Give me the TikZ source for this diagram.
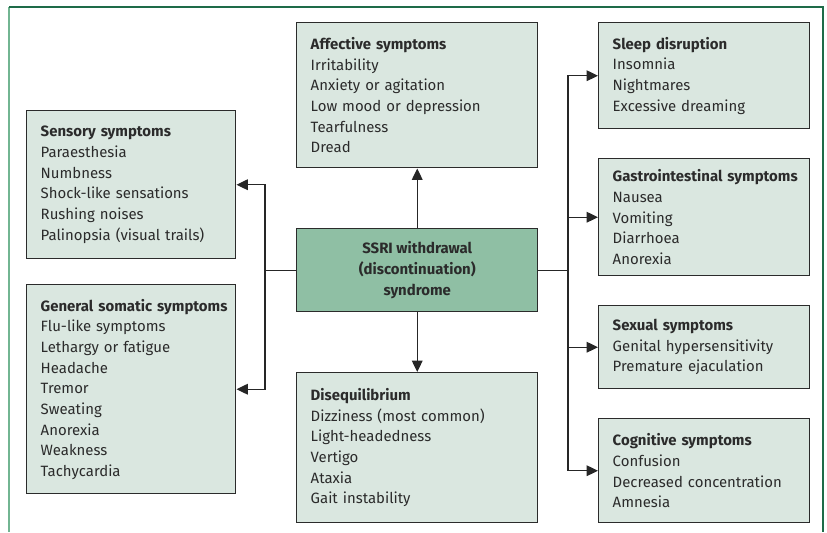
\documentclass[tikz,border=0pt]{standalone}
\usepackage{fontspec}
\setmainfont{Fira Sans}
\usetikzlibrary{positioning}
\usetikzlibrary{arrows.meta}
\definecolor{boxfill}{HTML}{DAE7E0}
\definecolor{mainfill}{HTML}{8FBFA4}
\definecolor{framegreen}{HTML}{1E6B48}
\definecolor{frameleft}{HTML}{72B592}
\definecolor{inkgrey}{HTML}{2B2B2B}
\newcommand{\hd}[1]{\mbox{\bfseries #1}}
\tikzset{
    symbox/.style = {rectangle,draw=inkgrey,line width=1.1pt,fill=boxfill,anchor=north west,
        align=left,inner xsep=10.5pt,text=inkgrey,font=\fontsize{11.2}{15.5}\selectfont},
    leftcol/.style = {symbox,text width=135.75pt},
    midcol/.style = {symbox,text width=159.75pt},
    rightcol/.style = {symbox,text width=137.25pt},
    mainbox/.style = {rectangle,draw=inkgrey,line width=1.1pt,fill=mainfill,anchor=north west,
        align=center,text=inkgrey,minimum width=180.75pt,minimum height=62.25pt,
        font=\bfseries\fontsize{11.2}{15.5}\selectfont},
    link/.style = {draw=black!85,line width=0.9pt},
    pointer/.style = {link,-{Triangle[length=8.5pt,width=8pt]}}}
\begin{document}
\begin{tikzpicture}[x=0.75pt,y=-0.75pt]
    \useasboundingbox (0,0) rectangle (827,532);
    % frame
    \draw[frameleft,line width=1.5pt] (9,7) -- (9,532);
    \draw[framegreen,line width=1.1pt] (9,7) -- (823,7) -- (823,532);
    \path (26,110) node[leftcol,minimum height=111pt] (sens) {\hd{Sensory symptoms}\\ Paraesthesia\\ Numbness\\ Shock-like sensations\\ Rushing noises\\ Palinopsia (visual trails)}
        + (0,174) node[leftcol,minimum height=156.75pt] (gen) {\hd{General somatic symptoms}\\ Flu-like symptoms\\ Lethargy or fatigue\\ Headache\\ Tremor\\ Sweating\\ Anorexia\\ Weakness\\ Tachycardia}
        (296,22) node[midcol,minimum height=108.75pt] (aff) {\hd{Affective symptoms}\\ Irritability\\ Anxiety or agitation\\ Low mood or depression\\ Tearfulness\\ Dread}
        + (0,206) node[mainbox] (ssri) {SSRI withdrawal\\ (discontinuation)\\ syndrome}
        + (0,350) node[midcol,minimum height=112.5pt] (diseq) {\hd{Disequilibrium}\\ Dizziness (most common)\\ Light-headedness\\ Vertigo\\ Ataxia\\ Gait instability}
        (598,22) node[rightcol,minimum height=79.5pt] (sleep) {\hd{Sleep disruption}\\ Insomnia\\ Nightmares\\ Excessive dreaming}
        + (0,136) node[rightcol,minimum height=87.75pt] (gastro) {\hd{Gastrointestinal symptoms}\\ Nausea\\ Vomiting\\ Diarrhoea\\ Anorexia}
        + (0,283) node[rightcol,minimum height=62.25pt] (sexual) {\hd{Sexual symptoms}\\ Genital hypersensitivity\\ Premature ejaculation}
        + (0,396) node[rightcol,minimum height=78pt] (cog) {\hd{Cognitive symptoms}\\ Confusion\\ Decreased concentration\\ Amnesia};
    % branch points
    \coordinate (jl) at (265,270);
    \coordinate (jr) at (568,270);
    \draw[pointer] (ssri.north) -- (aff.south);
    \draw[pointer] (ssri.south) -- (diseq.north);
    \draw[link] (ssri.west) -- (ssri.west -| jl);
    \draw[link] (ssri.east) -- (ssri.east -| jr);
    \draw[pointer] (ssri.west -| jl) |- (sens.east);
    \draw[pointer] (ssri.west -| jl) |- (gen.east);
    \draw[pointer] (ssri.east -| jr) |- (sleep.west);
    \draw[pointer] (ssri.east -| jr) |- (gastro.west);
    \draw[pointer] (ssri.east -| jr) |- (sexual.west);
    \draw[pointer] (ssri.east -| jr) |- (cog.west);
\end{tikzpicture}
\end{document}
